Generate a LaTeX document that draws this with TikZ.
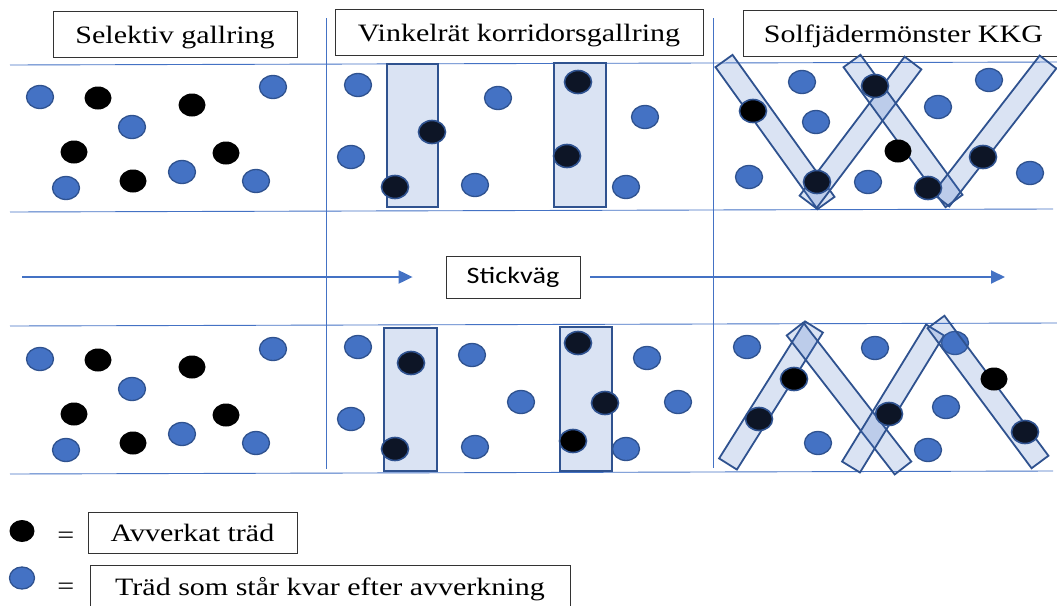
\documentclass[tikz,border=0pt]{standalone}
\usepackage{fontspec}
\setmainfont{Liberation Serif}[FakeStretch=1.2]
\newfontfamily\stickfont{Carlito}[FakeStretch=1.2]
\usetikzlibrary{positioning, arrows.meta, calc}

\definecolor{treeblue}{RGB}{68,114,196}
\definecolor{treeedge}{RGB}{47,82,143}
\definecolor{cutnavy}{RGB}{13,21,38}

% franja del solfjäder: centro de un extremo -> centro del otro
\newcommand{\fanstrip}[2]{%
  \draw[stripbox] ($(#1)!10.5pt!90:(#2)$) -- ($(#1)!10.5pt!-90:(#2)$)
    -- ($(#2)!10.5pt!90:(#1)$) -- ($(#2)!10.5pt!-90:(#1)$) -- cycle;}

\begin{document}
\begin{tikzpicture}[
  x=1pt, y=-1pt,
  font=\fontsize{25}{30}\selectfont,
  % Estilos de cajas de texto
  titlebox/.style={draw=black!80, line width=0.8pt, inner sep=0pt, minimum height=46pt, text height=18pt, text depth=0pt},
  legbox/.style={draw=black!80, line width=0.8pt, inner sep=0pt, minimum height=41pt},
  eqsign/.style={inner sep=0pt},
  % Estilos de lineas y franjas
  gridline/.style={draw=treeblue, line width=0.9pt},
  road/.style={draw=treeblue, line width=2pt, -{Triangle[length=14pt, width=13pt]}},
  stripbox/.style={fill=treeblue, fill opacity=0.2, draw=treeedge, line width=1.8pt},
  % Estilos de arboles
  treesize/.style={x radius=13.5pt, y radius=11.5pt},
  keeptree/.style={fill=treeblue, draw=treeedge, line width=1.3pt},
  cuttree/.style={fill=black},
  cutstrip/.style={fill=cutnavy, draw=treeedge, line width=1.6pt},
  cutrim/.style={fill=black, draw=treeedge, line width=1.6pt}
]
  \useasboundingbox (0,0) rectangle (1057,605);

  % ==========================================
  % GRID OF THE THREE METHODS
  % ==========================================
  \draw[gridline] (10,65) -- (1057,62);
  \draw[gridline] (10,212) -- (1053,209);
  \draw[gridline] (10,326) -- (1057,323);
  \draw[gridline] (10,474) -- (1053,471);
  \draw[gridline] (326,18) -- (326,469);
  \draw[gridline] (713,18) -- (713,468);

  \node[titlebox, minimum width=244pt] (tSel) at (175,34) {Selektiv gallring};
  \node[titlebox, minimum width=368pt] (tKorr) at (519,32) {Vinkelrät korridorsgallring};
  \node[titlebox, minimum width=320pt, anchor=west] (tSolf) at (743,33.5) {Solfjädermönster KKG};

  % --- COLUMN 1: SELEKTIV (same pattern on both sides of the road) ---
  \foreach \dy in {0,262} {
    \foreach \x/\y in {40/97, 132/127, 273/87, 66/188, 182/172, 256/181}
      \path[keeptree] (\x,\y+\dy) ellipse[treesize];
    \foreach \x/\y in {98/98, 192/105, 74/152, 226/153, 133/181}
      \path[cuttree] (\x,\y+\dy) ellipse[treesize];
  }

  % --- COLUMN 2: KORRIDORER ---
  \draw[stripbox] (387,64) rectangle (438,207);
  \draw[stripbox] (554,63) rectangle (606,207);
  \foreach \x/\y in {358/85, 498/98, 645/117, 351/157, 475/185, 626/187}
    \path[keeptree] (\x,\y) ellipse[treesize];
  \foreach \x/\y in {432/132, 395/187, 578/82, 567/156}
    \path[cutstrip] (\x,\y) ellipse[treesize];

  \draw[stripbox] (384,328) rectangle (437,471);
  \draw[stripbox] (560,327) rectangle (612,471);
  \foreach \x/\y in {358/347, 472/355, 521/402, 351/419, 475/447, 647/358, 678/402, 626/449}
    \path[keeptree] (\x,\y) ellipse[treesize];
  \foreach \x/\y in {411/363, 395/449, 578/343, 605/403}
    \path[cutstrip] (\x,\y) ellipse[treesize];
  \path[cutrim] (573,441) ellipse[treesize];

  % --- COLUMN 3: SOLFJÄDER ---
  \fanstrip{724,61}{826,203}
  \fanstrip{808,202}{913,63}
  \fanstrip{852,61}{954,201}
  \fanstrip{941,200}{1048,62}
  \foreach \x/\y in {802/82, 816/122, 749/177, 868/182, 938/107, 989/80, 1030/173}
    \path[keeptree] (\x,\y) ellipse[treesize];
  \foreach \x/\y in {817/182, 875/86, 928/188, 983/157}
    \path[cutstrip] (\x,\y) ellipse[treesize];
  \path[cutrim] (753,111) ellipse[treesize];
  \path[cuttree] (898,151) ellipse[treesize];

  \path[keeptree] (955,343) ellipse[treesize];
  \fanstrip{728,464}{814,327}
  \fanstrip{795,329}{903,468}
  \fanstrip{851,467}{935,330}
  \fanstrip{936,322}{1040,462}
  \foreach \x/\y in {747/347, 875/348, 818/443, 946/407, 928/450}
    \path[keeptree] (\x,\y) ellipse[treesize];
  \foreach \x/\y in {759/419, 889/414, 1025/432}
    \path[cutstrip] (\x,\y) ellipse[treesize];
  \path[cutrim] (794,379) ellipse[treesize];
  \path[cuttree] (994,379) ellipse[treesize];

  % ==========================================
  % ROAD THROUGH THE STAND
  % ==========================================
  \node[draw=black!80, line width=0.8pt, inner sep=0pt, minimum width=134pt, minimum height=42pt,
        font=\stickfont\fontsize{23.5}{28}\selectfont] (stick) at (513,277) {Stickväg};
  \coordinate (rStart) at (22,277);
  \coordinate (rEnd) at (1005,277);
  \draw[road, shorten >=33pt] (rStart) -- (stick);
  \draw[road, shorten <=10pt] (stick) -- (rEnd);

  % ==========================================
  % LEGEND
  % ==========================================
  \path[cuttree] (22,531) ellipse[x radius=12.5pt, y radius=11pt];
  \node[legbox, minimum width=209pt] (lCut) at (192.5,532.5) {Avverkat träd};
  \node[eqsign, left=13pt of lCut, yshift=-5pt] (eq1) {=};

  \path[keeptree] (22,578) ellipse[x radius=12.5pt, y radius=11pt];
  \node[legbox, minimum width=480pt, minimum height=48pt] (lKeep) at (330,589) {Träd som står kvar efter avverkning};
  \node[eqsign, left=15pt of lKeep] (eq2) {=};

\end{tikzpicture}
\end{document}
